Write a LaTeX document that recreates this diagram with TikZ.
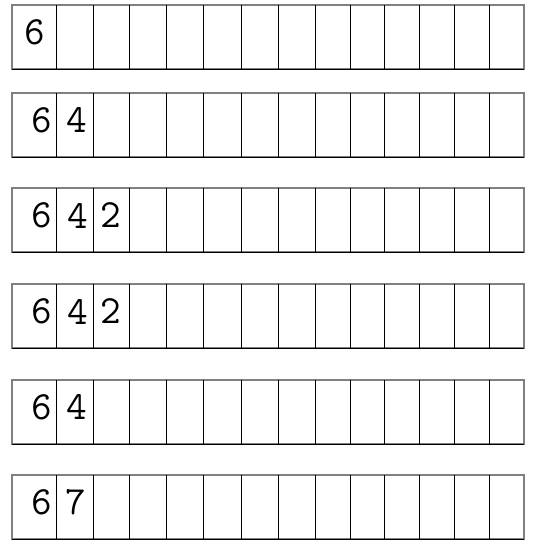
\documentclass[tikz,border=0pt]{standalone}
\usepackage{tikz}
\usetikzlibrary{positioning}
\tikzset{frame/.style={draw=gray,line width=1pt}}
\tikzset{sep/.style={draw=black,line width=0.7pt}}
\tikzset{digit/.style={font=\ttfamily\fontsize{30}{32}\selectfont,inner sep=0pt}}
\begin{document}
\begin{tikzpicture}[x=0.75pt,y=-0.75pt]
        \useasboundingbox (0,0) rectangle (535,553);
        % six rows of cells
        \foreach \ytop in {5,93,188,284,380,475}{
          \draw[frame] (12,\ytop) rectangle (524,\ytop+64);
          \draw[sep] (12,\ytop+64) -- (524,\ytop+64);
          \foreach \xx in {56,93,129,166,203,241,278,315,350,384,419,454,489}
            \draw[sep] (\xx,\ytop) -- (\xx,\ytop+64);
        }
        % digits
        \node(a1)[digit] at (34.5,32) {6};
        \node(a2)[digit] at (41.5,120) {6};
        \node(b2)[digit] at (77,120) {4};
        \node(a3)[digit] at (41.5,215.5) {6};
        \node(b3)[digit] at (78,215.5) {4};
        \node(c3)[digit] at (111,215.5) {2};
        \node(a4)[digit] at (41.5,311.5) {6};
        \node(b4)[digit] at (78,311.5) {4};
        \node(c4)[digit] at (111,311.5) {2};
        \node(a5)[digit] at (41.5,407) {6};
        \node(b5)[digit] at (77,407) {4};
        \node(a6)[digit] at (41.5,502.5) {6};
        \node(b6)[digit] at (76,502.5) {7};
      \end{tikzpicture}
\end{document}
